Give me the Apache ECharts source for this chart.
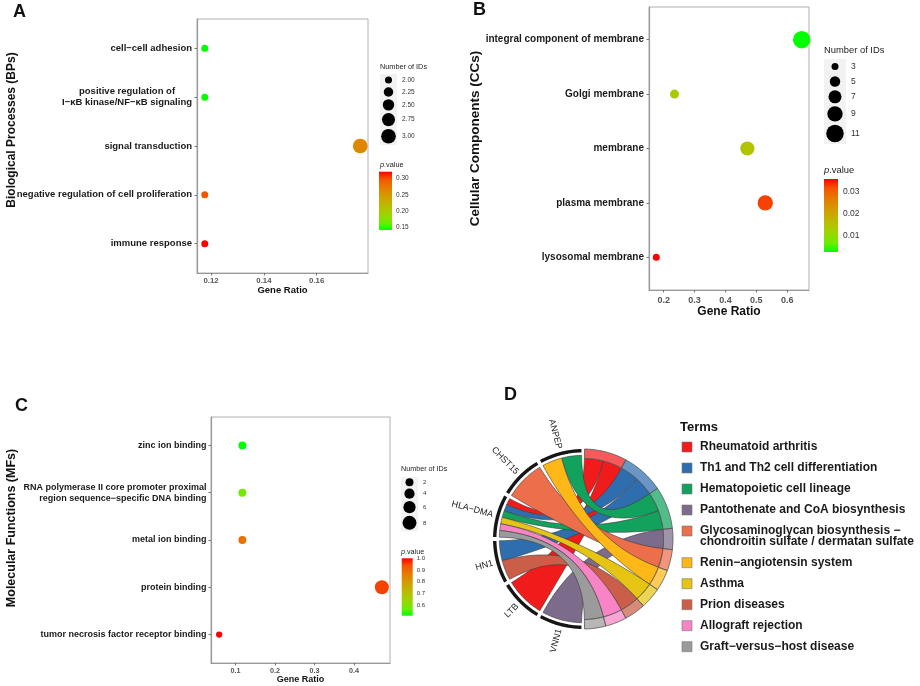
<!DOCTYPE html>
<html>
<head>
<meta charset="utf-8">
<script src="https://cdn.jsdelivr.net/npm/echarts@6.0.0/dist/echarts.min.js"></script>
<style>
html,body{margin:0;padding:0;background:#ffffff;}
#chart{width:920px;height:686px;}
</style>
</head>
<body>
<div id="chart"></div>
<script>
// ================= DATA =================
// Panel A : Biological Processes
const bpTerms = ['cell−cell adhesion', 'positive regulation of\nI−κB kinase/NF−κB signaling', 'signal transduction', 'negative regulation of cell proliferation', 'immune response'];
const bpGeneRatio = [0.1176, 0.1176, 0.1765, 0.1176, 0.1176];
const bpCount = [2, 2, 3, 2, 2];
const bpPValue = [0.143, 0.145, 0.262, 0.298, 0.320];
const bpRatioTicks = [0.12, 0.14, 0.16];
const bpCountKeys = [2.00, 2.25, 2.50, 2.75, 3.00];
const bpPTicks = [0.15, 0.20, 0.25, 0.30];

// Panel B : Cellular Components
const ccTerms = ['integral component of membrane', 'Golgi membrane', 'membrane', 'plasma membrane', 'lysosomal membrane'];
const ccGeneRatio = [0.647, 0.235, 0.471, 0.529, 0.176];
const ccCount = [11, 4, 8, 9, 3];
const ccPValue = [0.0025, 0.0135, 0.0145, 0.0322, 0.0355];
const ccRatioTicks = [0.2, 0.3, 0.4, 0.5, 0.6];
const ccCountKeys = [3, 5, 7, 9, 11];
const ccPTicks = [0.01, 0.02, 0.03];

// Panel C : Molecular Functions
const mfTerms = ['zinc ion binding', 'RNA polymerase II core promoter proximal\nregion sequence−specific DNA binding', 'metal ion binding', 'protein binding', 'tumor necrosis factor receptor binding'];
const mfGeneRatio = [0.1176, 0.1176, 0.1176, 0.4706, 0.0588];
const mfCount = [2, 2, 2, 8, 1];
const mfPValue = [0.509, 0.583, 0.882, 0.951, 1.0];
const mfRatioTicks = [0.1, 0.2, 0.3, 0.4];
const mfCountKeys = [2, 4, 6, 8];
const mfPTicks = [0.6, 0.7, 0.8, 0.9, 1.0];

// Panel D : chord (genes -> KEGG terms)
const chordGenes = ['ANPEP', 'CHST15', 'HLA−DMA', 'HN1', 'LTB', 'VNN1'];
const chordTerms = ['Rheumatoid arthritis', 'Th1 and Th2 cell differentiation', 'Hematopoietic cell lineage', 'Pantothenate and CoA biosynthesis', 'Glycosaminoglycan biosynthesis −\nchondroitin sulfate / dermatan sulfate', 'Renin−angiotensin system', 'Asthma', 'Prion diseases', 'Allograft rejection', 'Graft−versus−host disease'];
const chordLinkGene = ['HLA−DMA', 'LTB', 'HLA−DMA', 'HN1', 'ANPEP', 'HLA−DMA', 'VNN1', 'CHST15', 'ANPEP', 'HLA−DMA', 'HN1', 'HLA−DMA', 'HLA−DMA'];
const chordLinkTerm = [0, 0, 1, 1, 2, 2, 3, 4, 5, 6, 7, 8, 9];

// ================= STYLE =================
const termColors = ['#F21B1B', '#2F6EAE', '#12A25E', '#7C6B8B', '#EC6E4B', '#FDB717', '#E6C414', '#CB5E48', '#F883C5', '#9B9B9B'];
const P_COLORS = ['#00FF00', '#70EB00', '#98D700', '#B3C200', '#C8AB00', '#DA9200', '#E87600', '#F45300', '#FF0000'];
const FONT = '"Liberation Sans", Arial, Helvetica, sans-serif';

const grid = [], xAxis = [], yAxis = [], series = [], visualMap = [], graphic = [];

function addText(o) {
  graphic.push({
    type: 'text', x: o.x, y: o.y, rotation: o.rot || 0, silent: true, z: 10,
    style: {
      text: o.text, fontSize: o.size, fontWeight: o.bold ? 'bold' : 'normal', fontFamily: FONT,
      fill: o.color || '#111', align: o.align || 'left', verticalAlign: o.va || 'middle',
      lineHeight: o.lh, rich: o.rich
    }
  });
}

function fmtTerm(t, center) {
  if (center && t.indexOf('\n') >= 0) return t.split('\n').map(l => '{c|' + l + '}').join('\n');
  return t;
}

function bubblePanel(o) {
  const gi = grid.length;
  grid.push({ left: o.box[0], top: o.box[1], width: o.box[2], height: o.box[3], show: true, backgroundColor: '#fff', borderColor: '#b0b0b0', borderWidth: 1, outerBoundsMode: 'none' });
  const rMin = Math.min(...o.ratio), rMax = Math.max(...o.ratio), pad = (rMax - rMin) * 0.05;
  const xi = xAxis.length;
  xAxis.push({
    gridIndex: gi, type: 'value', min: rMin - pad, max: rMax + pad, splitLine: { show: false },
    axisLine: { show: true, onZero: false, lineStyle: { color: '#999', width: 1.2 } },
    axisTick: { show: true, length: 2.5, customValues: o.xTicks, lineStyle: { color: '#555', width: 0.8 } },
    axisLabel: { customValues: o.xTicks, formatter: v => String(v), margin: o.xMargin, fontSize: o.xFont, fontWeight: 'bold', color: '#555', fontFamily: FONT }
  });
  const yi = yAxis.length;
  const pos = o.terms.map((_, i) => i + 1);
  yAxis.push({
    gridIndex: gi, type: 'value', inverse: true, min: 0.4, max: o.terms.length + 0.6, splitLine: { show: false },
    axisLine: { show: true, onZero: false, lineStyle: { color: '#999', width: 1.2 } },
    axisTick: { show: true, length: 2.5, customValues: pos, lineStyle: { color: '#555', width: 0.8 } },
    axisLabel: {
      customValues: pos, formatter: v => fmtTerm(o.terms[Math.round(v) - 1], o.centerLines),
      margin: o.yMargin, fontSize: o.yFont, fontWeight: 'bold', color: '#1a1a1a', fontFamily: FONT, lineHeight: o.yLine,
      rich: { c: { align: 'center', fontSize: o.yFont, fontWeight: 'bold', fontFamily: FONT, color: '#1a1a1a', lineHeight: o.yLine } }
    }
  });
  const cMin = Math.min(...o.count), cMax = Math.max(...o.count);
  const size = v => o.dMin + (o.dMax - o.dMin) * Math.pow(Math.max(0, (v - cMin) / (cMax - cMin)), 0.8);
  const si = series.length;
  series.push({
    type: 'scatter', xAxisIndex: xi, yAxisIndex: yi, clip: false, silent: true, z: 5,
    data: o.ratio.map((r, i) => [r, i + 1, o.count[i], o.p[i]]),
    symbol: 'circle', symbolSize: d => size(d[2]), itemStyle: { opacity: 1 }, emphasis: { disabled: true }
  });
  const pMin = Math.min(...o.p), pMax = Math.max(...o.p);
  visualMap.push({ type: 'continuous', show: false, seriesIndex: si, dimension: 3, min: pMin, max: pMax, inRange: { color: P_COLORS } });

  // size legend
  const keyD = o.keys.map(size);
  const hs = keyD.map(d => Math.max(o.keyBase, d * 1.2));
  let acc = 0;
  const centers = hs.map(h => { const c = acc + h / 2; acc += h; return c; });
  const gk = grid.length;
  grid.push({ left: o.keyBox[0], top: o.keyBox[1], width: o.keyBox[2], height: acc, show: true, backgroundColor: '#f2f2f2', borderWidth: 0, outerBoundsMode: 'none' });
  const kx = xAxis.length;
  xAxis.push({ gridIndex: gk, type: 'value', min: 0, max: 1, show: false });
  const ky = yAxis.length;
  yAxis.push({
    gridIndex: gk, type: 'value', min: 0, max: acc, inverse: true, position: 'right',
    axisLine: { show: false }, axisTick: { show: false }, splitLine: { show: false },
    axisLabel: {
      customValues: centers,
      formatter: v => { let bi = 0; centers.forEach((c, i) => { if (Math.abs(c - v) < Math.abs(centers[bi] - v)) bi = i; }); return o.keys[bi].toFixed(o.keyDec); },
      margin: o.keyGap, fontSize: o.keyFont, color: '#333', fontFamily: FONT
    }
  });
  series.push({
    type: 'scatter', xAxisIndex: kx, yAxisIndex: ky, clip: false, silent: true,
    data: o.keys.map((k, i) => [0.5, centers[i], k]), symbol: 'circle',
    symbolSize: d => size(d[2]), itemStyle: { color: '#000', opacity: 1 }
  });
  addText({ x: o.keyBox[0], y: o.keyTitleY, text: 'Number of IDs', size: o.legTitle, color: '#222' });

  // colour bar
  const gc = grid.length;
  grid.push({ left: o.cbBox[0], top: o.cbBox[1], width: o.cbBox[2], height: o.cbBox[3], show: false, outerBoundsMode: 'none' });
  const cx = xAxis.length;
  xAxis.push({ gridIndex: gc, type: 'value', min: 0, max: 1, show: false });
  const cy = yAxis.length;
  yAxis.push({
    gridIndex: gc, type: 'value', min: pMin, max: pMax, position: 'right', splitLine: { show: false },
    axisLine: { show: false },
    axisTick: { show: true, inside: true, length: 2.5, customValues: o.pTicks, lineStyle: { color: '#fff', width: 0.8 } },
    axisLabel: { customValues: o.pTicks, formatter: v => Number(v).toFixed(o.pDec), margin: o.cbGap, fontSize: o.cbFont, color: '#333', fontFamily: FONT }
  });
  const stops = P_COLORS.slice().reverse().map((c, i, arr) => ({ offset: i / (arr.length - 1), color: c }));
  series.push({
    type: 'custom', xAxisIndex: cx, yAxisIndex: cy, silent: true, z: 1,
    data: [[0, pMin, 1, pMax]],
    renderItem: (params, api) => {
      const a = api.coord([api.value(0), api.value(3)]);
      const b = api.coord([api.value(2), api.value(1)]);
      return { type: 'rect', shape: { x: a[0], y: a[1], width: b[0] - a[0], height: b[1] - a[1] }, style: { fill: new echarts.graphic.LinearGradient(0, 0, 0, 1, stops) } };
    }
  });
  addText({ x: o.keyBox[0], y: o.pTitleY, text: '{i|p}.value', size: o.legTitle, color: '#222',
    rich: { i: { fontStyle: 'italic', fontSize: o.legTitle, fontFamily: FONT, fill: '#222' } } });
}

bubblePanel({
  terms: bpTerms, ratio: bpGeneRatio, count: bpCount, p: bpPValue, xTicks: bpRatioTicks, keys: bpCountKeys, pTicks: bpPTicks,
  box: [197, 19, 171, 254], xMargin: 4, xFont: 7.8, yMargin: 5, yFont: 9.5, yLine: 11, centerLines: true,
  dMin: 7, dMax: 14.7, keyBox: [380, 74, 17], keyBase: 12, keyDec: 2, keyFont: 6.5, keyGap: 5, keyTitleY: 66.7, legTitle: 7.3,
  cbBox: [379, 171.7, 13, 58.3], pDec: 2, cbFont: 6.5, cbGap: 4, pTitleY: 164.7
});
bubblePanel({
  terms: ccTerms, ratio: ccGeneRatio, count: ccCount, p: ccPValue, xTicks: ccRatioTicks, keys: ccCountKeys, pTicks: ccPTicks,
  box: [649, 7, 160, 283], xMargin: 6, xFont: 9, yMargin: 5, yFont: 10, yLine: 11, centerLines: false,
  dMin: 7, dMax: 17.5, keyBox: [824, 59, 22], keyBase: 15, keyDec: 0, keyFont: 8.5, keyGap: 5, keyTitleY: 50, legTitle: 9.4,
  cbBox: [824, 179, 14, 73], pDec: 2, cbFont: 8.5, cbGap: 5, pTitleY: 170.7
});
bubblePanel({
  terms: mfTerms, ratio: mfGeneRatio, count: mfCount, p: mfPValue, xTicks: mfRatioTicks, keys: mfCountKeys, pTicks: mfPTicks,
  box: [211, 417, 179, 246], xMargin: 5, xFont: 7.2, yMargin: 4.5, yFont: 9, yLine: 10.7, centerLines: false,
  dMin: 6.3, dMax: 14, keyBox: [401, 477, 17], keyBase: 10.6, keyDec: 0, keyFont: 6, keyGap: 5, keyTitleY: 469, legTitle: 7.2,
  cbBox: [401.7, 558.3, 11, 57.4], pDec: 1, cbFont: 6, cbGap: 4, pTitleY: 551.7
});

// panel titles and axis titles
addText({ x: 13, y: 12.5, text: 'A', size: 18, bold: true });
addText({ x: 473, y: 10, text: 'B', size: 18, bold: true });
addText({ x: 15, y: 406.5, text: 'C', size: 18, bold: true });
addText({ x: 504, y: 395, text: 'D', size: 18, bold: true });
addText({ x: 11.7, y: 130, rot: Math.PI / 2, align: 'center', text: 'Biological Processes (BPs)', size: 12, bold: true });
addText({ x: 475, y: 138.5, rot: Math.PI / 2, align: 'center', text: 'Cellular Components (CCs)', size: 13.5, bold: true });
addText({ x: 11.7, y: 528, rot: Math.PI / 2, align: 'center', text: 'Molecular Functions (MFs)', size: 12.5, bold: true });
addText({ x: 282.5, y: 290, align: 'center', text: 'Gene Ratio', size: 9.5, bold: true });
addText({ x: 729, y: 312, align: 'center', text: 'Gene Ratio', size: 12, bold: true });
addText({ x: 300.5, y: 680, align: 'center', text: 'Gene Ratio', size: 9, bold: true });

// ================= CHORD =================
const deg = Math.PI / 180;
const nG = chordGenes.length;
const G_START = 91, G_SPAN = 178, G_GAP = 2.5;
const gW = (G_SPAN - G_GAP * (nG - 1)) / nG;
const geneArc = chordGenes.map((g, i) => [G_START + i * (gW + G_GAP), G_START + i * (gW + G_GAP) + gW]);
const links = chordLinkGene.map((g, k) => ({ g: chordGenes.indexOf(g), t: chordLinkTerm[k] }));
chordGenes.forEach((_, gi) => {
  const arr = links.filter(l => l.g === gi).sort((a, b) => a.t - b.t);
  const [a0, a1] = geneArc[gi];
  const w = (a1 - a0) / arr.length;
  arr.forEach((l, j) => { l.ga = a0 + j * w; l.gb = a0 + (j + 1) * w; });
});
const T_START = 89, T_SPAN = 178;
const unit = T_SPAN / links.length;
let curT = T_START;
const termArc = chordTerms.map((_, ti) => {
  const arr = links.filter(l => l.t === ti).sort((a, b) => a.g - b.g);
  const top = curT;
  arr.forEach((l, j) => { l.tu = top - j * unit; l.tl = top - (j + 1) * unit; });
  curT = top - arr.length * unit;
  return [curT, top];
});
const order = links.map((l, k) => k).sort((a, b) => (links[a].t - links[b].t) || (links[a].g - links[b].g));

const gd = grid.length;
grid.push({ left: 493, top: 449, width: 180, height: 180, show: false, outerBoundsMode: 'none' });
const dx = xAxis.length; xAxis.push({ gridIndex: gd, type: 'value', min: -1, max: 1, show: false });
const dy = yAxis.length; yAxis.push({ gridIndex: gd, type: 'value', min: -1, max: 1, show: false });

function P(api, ang, r) { const a = ang * deg; return api.coord([r * Math.cos(a), r * Math.sin(a)]); }
function arcPts(api, a0, a1, r) {
  const n = Math.max(2, Math.ceil(Math.abs(a1 - a0) / 1.2));
  const pts = [];
  for (let i = 0; i <= n; i++) pts.push(P(api, a0 + (a1 - a0) * i / n, r));
  return pts;
}
function bez(p0, c, p1) {
  const pts = [];
  for (let i = 1; i <= 30; i++) {
    const t = i / 30, u = 1 - t;
    pts.push([u * u * p0[0] + 2 * u * t * c[0] + t * t * p1[0], u * u * p0[1] + 2 * u * t * c[1] + t * t * p1[1]]);
  }
  return pts;
}
const R_G = 0.93, R_T = 0.895;

// ribbons
series.push({
  type: 'custom', xAxisIndex: dx, yAxisIndex: dy, silent: true, clip: false, z: 2,
  data: order.map(k => [0, 0, k]),
  renderItem: (params, api) => {
    const l = links[api.value(2)];
    const c = api.coord([0, 0]);
    const g = arcPts(api, l.ga, l.gb, R_G);
    const t = arcPts(api, l.tl, l.tu, R_T);
    let pts = g.slice();
    pts = pts.concat(bez(g[g.length - 1], c, t[0]));
    pts = pts.concat(t.slice(1));
    pts = pts.concat(bez(t[t.length - 1], c, g[0]));
    return { type: 'polygon', shape: { points: pts }, style: { fill: termColors[l.t], stroke: '#3a3a3a', lineWidth: 0.6 } };
  }
});
// term arcs
series.push({
  type: 'custom', xAxisIndex: dx, yAxisIndex: dy, silent: true, clip: false, z: 3,
  data: chordTerms.map((_, i) => [0, 0, i]),
  renderItem: (params, api) => {
    const i = api.value(2);
    const [a0, a1] = termArc[i];
    const outer = arcPts(api, a0, a1, 1.0);
    const inner = arcPts(api, a1, a0, R_T);
    return { type: 'polygon', shape: { points: outer.concat(inner) }, style: { fill: echarts.color.modifyAlpha(termColors[i], 0.72), stroke: '#555', lineWidth: 0.8 } };
  }
});
// gene arcs + labels
series.push({
  type: 'custom', xAxisIndex: dx, yAxisIndex: dy, silent: true, clip: false, z: 3,
  data: chordGenes.map((_, i) => [0, 0, i]),
  renderItem: (params, api) => {
    const i = api.value(2);
    const [a0, a1] = geneArc[i];
    const outer = arcPts(api, a0, a1, 1.0);
    const inner = arcPts(api, a1, a0, 0.962);
    const mid = (a0 + a1) / 2;
    const lp = P(api, mid, 1.035);
    return {
      type: 'group', children: [
        { type: 'polygon', shape: { points: outer.concat(inner) }, style: { fill: '#161616' } },
        { type: 'text', x: lp[0], y: lp[1], rotation: (mid + 180) * deg,
          style: { text: chordGenes[i], align: 'right', verticalAlign: 'middle', fontSize: 9, fontFamily: FONT, fill: '#222' } }
      ]
    };
  }
});

// chord legend
addText({ x: 680, y: 427, text: 'Terms', size: 13, bold: true });
let rowY = 447;
chordTerms.forEach((t, i) => {
  graphic.push({ type: 'rect', silent: true, shape: { x: 682, y: rowY - 5, width: 10, height: 10 }, style: { fill: termColors[i], stroke: '#777', lineWidth: 0.6 } });
  addText({ x: 700, y: rowY - 5.5, va: 'top', lh: 11, text: t, size: 12, bold: true, color: '#1a1a1a' });
  rowY += 21 + (t.split('\n').length - 1) * 10.7;
});

const chart = echarts.init(document.getElementById('chart'), null, { renderer: 'canvas' });
chart.setOption({
  animation: false,
  backgroundColor: '#ffffff',
  grid, xAxis, yAxis, series, visualMap, graphic
});
</script>
</body>
</html>
